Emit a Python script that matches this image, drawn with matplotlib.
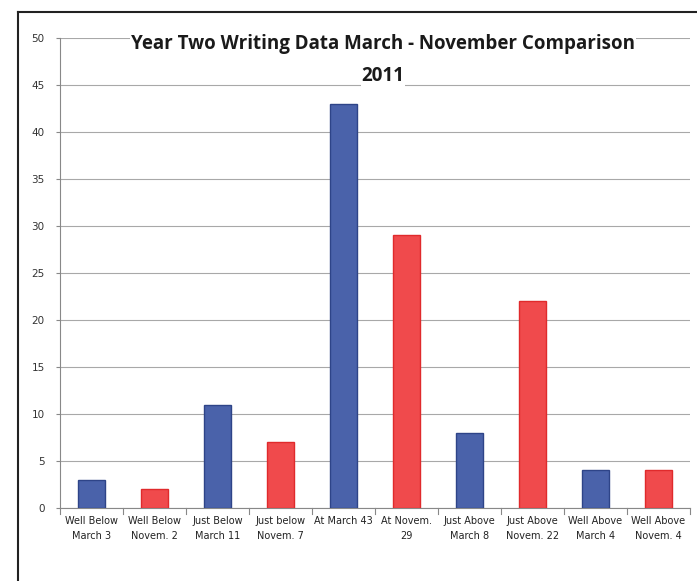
import matplotlib.pyplot as plt
from matplotlib.lines import Line2D

# chart data
labels = ["Well Below\nMarch 3", "Well Below\nNovem. 2", "Just Below\nMarch 11",
          "Just below\nNovem. 7", "At March 43", "At Novem.\n29", "Just Above\nMarch 8",
          "Just Above\nNovem. 22", "Well Above\nMarch 4", "Well Above\nNovem. 4"]
values = [3, 2, 11, 7, 43, 29, 8, 22, 4, 4]
bar_colors = ["#4a62aa", "#f04a4c"] * 5
edge_colors = ["#2e4488", "#e02a2c"] * 5
y_ticks = list(range(0, 51, 5))

fig = plt.figure(figsize=(6.97, 5.81), dpi=100)
ax = fig.add_axes([60 / 697, 1 - 508 / 581, 630 / 697, 470 / 581])

x = list(range(len(values)))
ax.bar(x, values, width=0.43, color=bar_colors, edgecolor=edge_colors,
       linewidth=1.0, zorder=3)

ax.set_xlim(-0.5, len(values) - 0.5)
ax.set_ylim(0, 50)
ax.set_yticks(y_ticks)
ax.set_yticklabels([str(v) for v in y_ticks], fontsize=7.5, family="Liberation Sans Narrow",
                   color="#333333")
ax.set_xticks(x)
ax.set_xticklabels(labels, fontsize=7, family="Liberation Sans Narrow", linespacing=1.6,
                   color="#222222")
ax.tick_params(axis="y", length=3, direction="out", color="#888888", pad=8)
ax.tick_params(axis="x", length=0, pad=6)

# category boundary ticks on the x-axis
for b in [i - 0.5 for i in range(len(values) + 1)]:
    ax.plot([b, b], [0, -0.6], color="#888888", lw=0.8, clip_on=False, zorder=2)

ax.yaxis.grid(True, color="#a8a8a8", lw=0.8, zorder=0)
for side in ["top", "right"]:
    ax.spines[side].set_visible(False)
ax.spines["left"].set_color("#888888")
ax.spines["bottom"].set_color("#888888")

title_box = dict(facecolor="white", edgecolor="none", pad=0.5)
ax.text(0.513, 0.987, "Year Two Writing Data March - November Comparison",
        transform=ax.transAxes, ha="center", va="center", fontsize=13.5,
        fontweight="bold", family="Open Sans", color="#1a1a1a", bbox=title_box, zorder=5)
ax.text(0.513, 0.919, "2011",
        transform=ax.transAxes, ha="center", va="center", fontsize=13.5,
        fontweight="bold", family="Open Sans", color="#1a1a1a", bbox=title_box, zorder=5)

# outer chart border
fig.add_artist(Line2D([18 / 697, 18 / 697], [0, 1 - 12 / 581], color="#222222", lw=1.5))
fig.add_artist(Line2D([18 / 697, 1], [1 - 12 / 581, 1 - 12 / 581], color="#222222", lw=1.5))

fig.savefig("out.png", dpi=100)
